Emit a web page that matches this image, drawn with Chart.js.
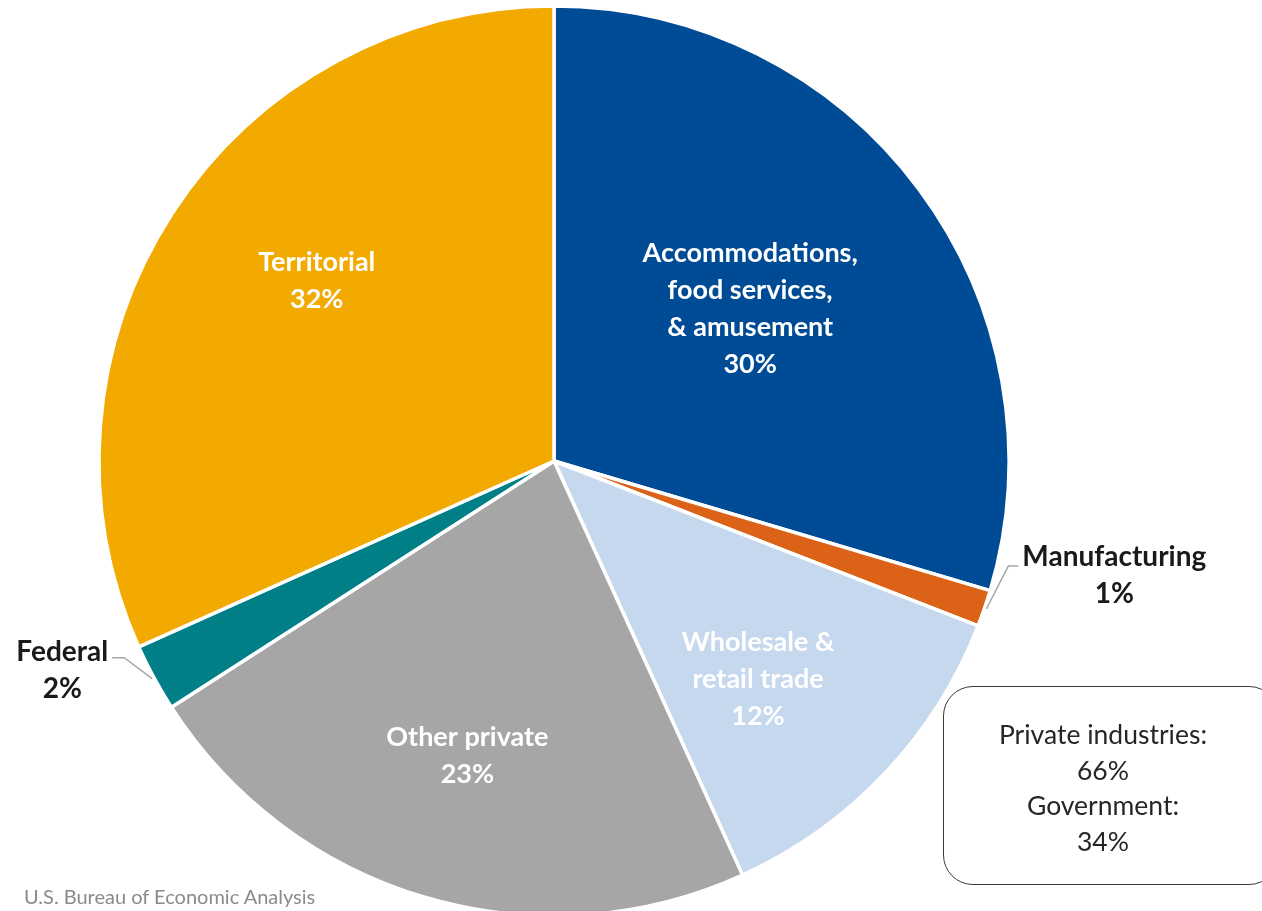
<!DOCTYPE html>
<html>
<head>
<meta charset="utf-8">
<script src="https://cdn.jsdelivr.net/npm/chart.js@4.4.1/dist/chart.umd.min.js"></script>
<style>
  html, body { margin: 0; padding: 0; background: #ffffff; overflow: hidden; width: 1262px; height: 911px; }
  #wrap { position: absolute; left: 0; top: 0; width: 1262px; height: 930px; }
  #summary {
    position: absolute; left: 943px; top: 686px; width: 336px; height: 199px;
    border: 1.5px solid #3a3a3a; border-radius: 30px; box-sizing: border-box;
    font-family: Lato, "Liberation Sans", sans-serif; font-size: 26.5px; color: #262626;
    text-align: center; line-height: 35.5px; padding-top: 30px; padding-right: 16px;
  }
  #source {
    position: absolute; left: 24px; top: 884px;
    font-family: Lato, "Liberation Sans", sans-serif; font-size: 20px; color: #8a8a8a;
  }
</style>
</head>
<body>
<div id="wrap"><canvas id="c" width="1262" height="930"></canvas></div>
<div id="summary">Private industries:<br>66%<br>Government:<br>34%</div>
<div id="source">U.S. Bureau of Economic Analysis</div>
<script>
// ---- data ----
const categories = ['Accommodations, food services, & amusement', 'Manufacturing', 'Wholesale & retail trade', 'Other private', 'Federal', 'Territorial'];
const labelLines = [['Accommodations,', 'food services,', '& amusement'], ['Manufacturing'], ['Wholesale &', 'retail trade'], ['Other private'], ['Federal'], ['Territorial']];
const shares = [29.6, 1.3, 12.3, 22.7, 2.4, 31.7];
const colors = ['#004B96', '#DC6218', '#C5D8EE', '#A6A6A6', '#007F87', '#F2A900'];

// label styling (not data): radial fraction + angular nudge (degrees)
const labelStyle = [
  { inside: true, f: 0.545, da: -1, color: '#ffffff' },
  { inside: false, elbow: [22, -43], hlen: 10, dy: -9, color: '#1a1a1a', side: 'right' },
  { inside: true, f: 0.656, da: 3.5, color: '#ffffff' },
  { inside: true, f: 0.675, da: 0, color: '#ffffff' },
  { inside: false, elbow: [-28, -21], hlen: 12, dy: -6, color: '#1a1a1a', side: 'left' },
  { inside: true, f: 0.655, da: 4.3, color: '#ffffff' }
];

const labelPlugin = {
  id: 'sliceLabels',
  afterDatasetsDraw(chart) {
    const ctx = chart.ctx;
    const meta = chart.getDatasetMeta(0);
    const lh = 37;
    ctx.save();
    ctx.textBaseline = 'middle';
    meta.data.forEach((arc, i) => {
      const p = arc.getProps(['x', 'y', 'startAngle', 'endAngle', 'outerRadius'], true);
      const mid = (p.startAngle + p.endAngle) / 2;
      const pct = Math.round(shares[i]) + '%';
      const lines = labelLines[i].concat([pct]);
      const st = labelStyle[i];
      ctx.fillStyle = st.color;
      if (st.inside) {
        ctx.font = 'bold 27px Lato, "Liberation Sans", sans-serif';
        const a = mid + st.da * Math.PI / 180;
        const cx = p.x + Math.cos(a) * p.outerRadius * st.f;
        const cy = p.y + Math.sin(a) * p.outerRadius * st.f;
        ctx.textAlign = 'center';
        const y0 = cy - (lines.length - 1) * lh / 2;
        lines.forEach((t, k) => ctx.fillText(t, cx, y0 + k * lh));
      } else {
        ctx.font = 'bold 28px Lato, "Liberation Sans", sans-serif';
        const ax = p.x + Math.cos(mid) * (p.outerRadius + 2);
        const ay = p.y + Math.sin(mid) * (p.outerRadius + 2);
        const ex = ax + st.elbow[0], ey = ay + st.elbow[1];
        const dir = st.side === 'right' ? 1 : -1;
        const hx = ex + dir * st.hlen;
        ctx.strokeStyle = '#a6a6a6';
        ctx.lineWidth = 1.5;
        ctx.beginPath();
        ctx.moveTo(ax, ay); ctx.lineTo(ex, ey); ctx.lineTo(hx, ey);
        ctx.stroke();
        const w = Math.max(...lines.map(t => ctx.measureText(t).width));
        const tx = hx + dir * (4 + w / 2);
        ctx.textAlign = 'center';
        const y0 = ey + st.dy;
        lines.forEach((t, k) => ctx.fillText(t, tx, y0 + k * lh));
      }
    });
    ctx.restore();
  }
};

new Chart(document.getElementById('c'), {
  type: 'pie',
  data: {
    labels: categories,
    datasets: [{ data: shares, backgroundColor: colors, borderColor: '#ffffff', borderWidth: 3.5 }]
  },
  options: {
    responsive: false,
    animation: false,
    radius: 455,
    layout: { padding: { left: 100, right: 254, top: 6, bottom: 14 } },
    plugins: { legend: { display: false }, tooltip: { enabled: false } }
  },
  plugins: [labelPlugin]
});
</script>
</body>
</html>
